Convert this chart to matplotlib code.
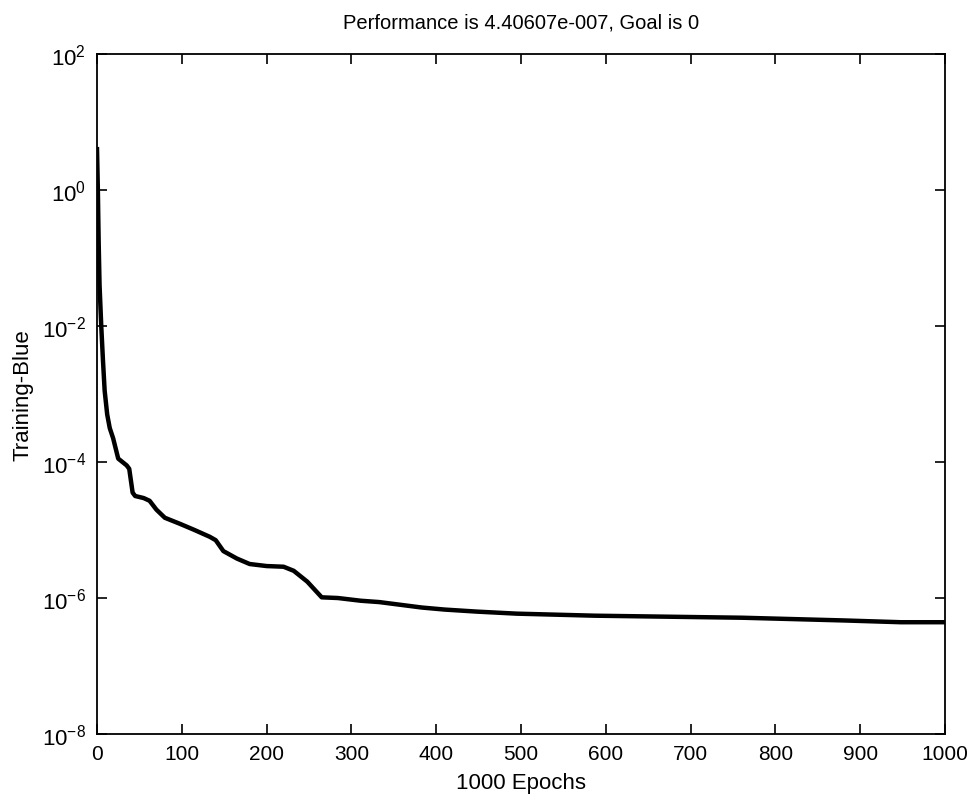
import numpy as np
import matplotlib
matplotlib.use("Agg")
import matplotlib.pyplot as plt
from matplotlib.ticker import NullLocator

plt.rcParams['font.family'] = ['Liberation Sans', 'DejaVu Sans']
plt.rcParams['mathtext.fontset'] = 'custom'
plt.rcParams['mathtext.rm'] = 'Liberation Sans'

# epochs and log10 of training error
epochs = [0, 1, 2, 3, 5, 7, 9, 12, 15, 19, 22, 25, 30, 35, 38, 42, 45, 55, 62,
          70, 80, 98, 115, 133, 140, 149, 165, 180, 200, 220, 232, 248, 265,
          284, 311, 333, 358, 383, 410, 448, 495, 587, 761, 881, 948, 1000]
log_perf = [0.6, 0.0, -0.8, -1.4, -2.0, -2.5, -2.95, -3.3, -3.5, -3.65, -3.8,
            -3.95, -4.0, -4.05, -4.1, -4.45, -4.5, -4.53, -4.57, -4.7, -4.82,
            -4.91, -5.0, -5.1, -5.15, -5.31, -5.42, -5.5, -5.53, -5.54, -5.6,
            -5.76, -5.99, -6.0, -6.04, -6.06, -6.1, -6.14, -6.17, -6.2, -6.23,
            -6.26, -6.29, -6.33, -6.356, -6.356]
perf = 10.0 ** np.array(log_perf)

y_exps = [-8, -6, -4, -2, 0, 2]

fig = plt.figure(figsize=(9.74, 8.04), dpi=100)
ax = fig.add_axes([0.0996, 0.0858, 0.8706, 0.8458])

ax.plot(epochs, perf, color="black", lw=3.2)

ax.set_yscale("log")
ax.set_xlim(0, 1000)
ax.set_ylim(1e-8, 1e2)
ax.set_xticks(np.arange(0, 1001, 100))
ax.set_yticks([10.0 ** e for e in y_exps])
ax.set_yticklabels([r"$\mathdefault{10^{%d}}$" % e for e in y_exps])
ax.yaxis.set_minor_locator(NullLocator())

ax.tick_params(direction="in", top=True, right=True, length=7, width=1.2,
               labelsize=15)
ax.tick_params(axis="x", pad=7)
ax.tick_params(axis="y", pad=8, labelsize=16)
for s in ax.spines.values():
    s.set_linewidth(1.3)

ax.set_title("Performance is 4.40607e-007, Goal is 0", fontsize=14.5, pad=19)
ax.set_xlabel("1000 Epochs", fontsize=16, labelpad=7)
ax.set_ylabel("Training-Blue", fontsize=16, labelpad=6)

fig.savefig("out.png", dpi=100)
